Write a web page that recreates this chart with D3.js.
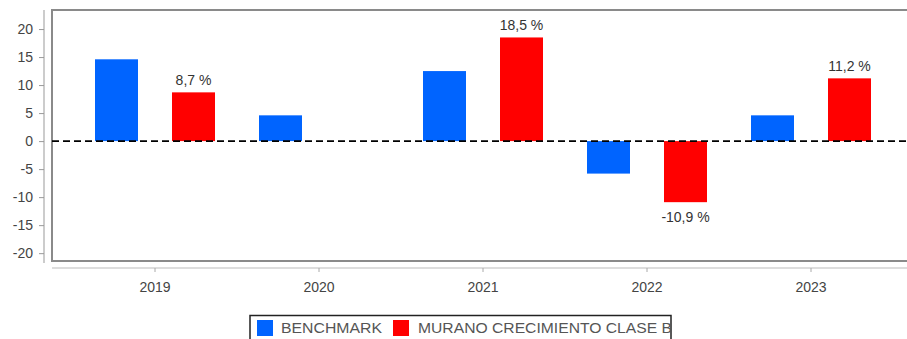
<!DOCTYPE html>
<html>
<head>
<meta charset="utf-8">
<script src="https://cdn.jsdelivr.net/npm/d3@7"></script>
<style>
  html, body { margin: 0; padding: 0; background: #fff; }
  svg { display: block; font-family: "Liberation Sans", Arial, sans-serif; }
</style>
</head>
<body>
<svg id="chart" width="907" height="339"></svg>
<script>
// Annual returns (%) by year
const years = ["2019", "2020", "2021", "2022", "2023"];
const seriesNames = ["BENCHMARK", "MURANO CRECIMIENTO CLASE B"];
const benchmark = [14.6, 4.6, 12.5, -5.8, 4.6];
const fund = [8.7, null, 18.5, -10.9, 11.2];
const yTicks = [-20, -15, -10, -5, 0, 5, 10, 15, 20];
const colors = ["#0064ff", "#ff0000"];

const rows = years.map((y, i) => ({ year: y, values: [benchmark[i], fund[i]] }));

// Spanish number style: comma decimal, plain hyphen for negatives
const locale = d3.formatLocale({ decimal: ",", thousands: ".", grouping: [3], currency: ["", " €"], minus: "-" });
const fmt = v => locale.format(".1f")(v) + " %";

const svg = d3.select("#chart");
const W = 907;
const plot = { left: 52, top: 10, bottom: 261 };

const x = d3.scaleBand().domain(years).range([73, 893]);
const xInner = d3.scaleBand().domain(seriesNames).range([22, 142]).paddingInner(0.4416);
const y = d3.scaleLinear().domain([-21.4, 23.4]).range([plot.bottom, plot.top]);

// plot frame
svg.append("rect")
  .attr("x", plot.left).attr("y", plot.top)
  .attr("width", W - plot.left + 10).attr("height", plot.bottom - plot.top)
  .attr("fill", "#fff").attr("stroke", "#8a8a8a").attr("stroke-width", 2);

// bars
const groups = svg.append("g").selectAll("g").data(rows).join("g")
  .attr("transform", d => `translate(${x(d.year)},0)`);

groups.selectAll("rect")
  .data(d => d.values.map((v, i) => ({ v, i })).filter(e => e.v !== null))
  .join("rect")
  .attr("x", e => xInner(seriesNames[e.i]))
  .attr("width", xInner.bandwidth())
  .attr("y", e => y(Math.max(0, e.v)))
  .attr("height", e => Math.abs(y(e.v) - y(0)))
  .attr("fill", e => colors[e.i]);

// value labels for the fund
groups.filter(d => d.values[1] !== null).append("text")
  .attr("x", xInner(seriesNames[1]) + xInner.bandwidth() / 2)
  .attr("y", d => d.values[1] >= 0 ? y(d.values[1]) - 7.5 : y(d.values[1]) + 20)
  .attr("text-anchor", "middle")
  .attr("font-size", 14)
  .attr("fill", "#333")
  .text(d => fmt(d.values[1]));

// zero reference line
svg.append("line")
  .attr("x1", plot.left).attr("x2", W)
  .attr("y1", y(0)).attr("y2", y(0))
  .attr("stroke", "#000").attr("stroke-width", 1.6)
  .attr("stroke-dasharray", "7,4");

// y axis
const yAxis = svg.append("g")
  .attr("transform", "translate(44,0)")
  .call(d3.axisLeft(y).tickValues(yTicks).tickFormat(locale.format("d"))
    .tickSize(5).tickSizeOuter(0).tickPadding(6));
yAxis.select(".domain").attr("stroke", "#999").attr("d", `M0,${plot.top}V${plot.bottom + 2}`);
yAxis.selectAll(".tick line").attr("stroke", "#999");
yAxis.selectAll(".tick text").attr("font-size", 14).attr("fill", "#444")
  .attr("font-family", "Liberation Sans, Arial, sans-serif");

// x axis
const xAxis = svg.append("g")
  .attr("transform", "translate(0,268)")
  .call(d3.axisBottom(x).tickSize(4).tickSizeOuter(0).tickPadding(10));
xAxis.select(".domain").attr("stroke", "#bbb").attr("d", `M${plot.left},0H${W}`);
xAxis.selectAll(".tick line").attr("stroke", "#aaa");
xAxis.selectAll(".tick text").attr("font-size", 14).attr("fill", "#444")
  .attr("font-family", "Liberation Sans, Arial, sans-serif");

// legend
const legend = svg.append("g");
legend.append("rect")
  .attr("x", 250).attr("y", 315.5).attr("width", 421).attr("height", 40)
  .attr("fill", "#fff").attr("stroke", "#222").attr("stroke-width", 1.5);
const legendItems = [
  { x: 257, tx: 281, len: 101 },
  { x: 393, tx: 418, len: 254 }
];
legendItems.forEach((it, i) => {
  legend.append("rect")
    .attr("x", it.x).attr("y", 320).attr("width", 16).attr("height", 16)
    .attr("fill", colors[i]);
  legend.append("text")
    .attr("x", it.tx).attr("y", 333)
    .attr("font-size", 14).attr("fill", "#555")
    .attr("textLength", it.len).attr("lengthAdjust", "spacingAndGlyphs")
    .text(seriesNames[i]);
});
</script>
</body>
</html>
